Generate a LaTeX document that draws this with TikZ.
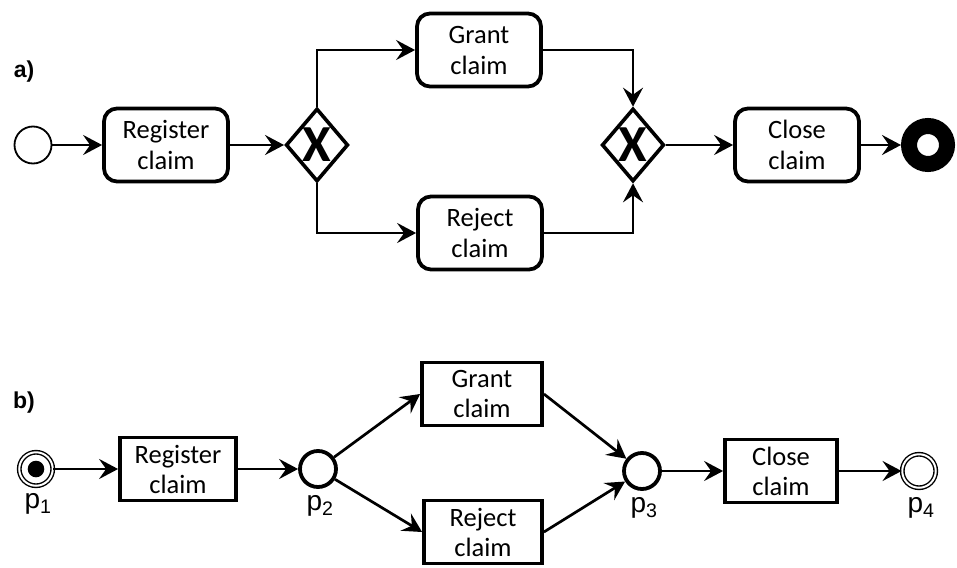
\documentclass[tikz,border=0pt]{standalone}
\usepackage{fontspec}
\setmainfont{Carlito}
\newfontfamily\arialfont{Liberation Sans}
\usetikzlibrary{shapes.geometric,arrows.meta}

\begin{document}
\begin{tikzpicture}[x=1pt,y=-1pt,
    flow/.style={line width=2.7pt, -{Stealth[length=19pt,width=20pt,inset=7pt]}},
    task/.style={draw, line width=3.8pt, rounded corners=13pt, minimum width=124pt,
      minimum height=73pt, inner sep=0pt, align=center, font=\fontsize{26.5}{31}\selectfont},
    gateway/.style={draw, diamond, line width=3.6pt, minimum width=60pt, minimum height=73pt,
      inner sep=0pt, font=\fontsize{52}{52}\selectfont\bfseries},
    trans/.style={draw, line width=3.8pt, minimum width=116pt, minimum height=63pt,
      inner sep=0pt, align=center, font=\fontsize{26.5}{30}\selectfont},
    place/.style={draw, circle, line width=3.8pt, minimum size=36pt, inner sep=0pt},
    dplace/.style={draw, circle, double, line width=1.4pt, double distance=2pt,
      minimum size=33.5pt, inner sep=0pt},
    plabel/.style={font=\arialfont\fontsize{28}{28}\selectfont},
    partlabel/.style={font=\arialfont\bfseries\fontsize{23}{23}\selectfont}]

      \useasboundingbox (0,0) rectangle (957,567);

      % a) BPMN model
      \node[partlabel] (la) at (24,72) {a)};
      \node[draw, circle, line width=1.8pt, minimum size=37pt, inner sep=0pt] (start) at (33,145) {};
      \node[task] (reg) at (166,145) {Register\\claim};
      \node[gateway] (gw1) at (317,145) {X};
      \node[task] (grant) at (479,50) {Grant\\claim};
      \node[task] (reject) at (480,233) {Reject\\claim};
      \node[gateway] (gw2) at (633,145) {X};
      \node[task] (close) at (797,145) {Close\\claim};
      \node[draw, circle, line width=16pt, minimum size=38pt, inner sep=0pt] (end) at (928,145) {};

      \draw[flow] (start) -- (reg);
      \draw[flow] (reg) -- (gw1);
      \draw[flow] (gw1.north) |- (grant.west);
      \draw[flow] (gw1.south) |- (reject.west);
      \draw[flow] (grant.east) -| (gw2.north);
      \draw[flow] (reject.east) -| (gw2.south);
      \draw[flow] (gw2) -- (close);
      \draw[flow] (close) -- (end);

      % b) Petri net
      \node[partlabel] (lb) at (24,403) {b)};
      \node[dplace] (p1) at (36,469) {};
      \fill (p1.center) circle (8.3pt);
      \node[trans, minimum width=116pt] (reg2) at (178,469) {Register\\claim};
      \node[place] (p2) at (318,469) {};
      \node[trans, minimum width=120pt] (grant2) at (482,394) {Grant\\claim};
      \node[trans, minimum width=118pt] (reject2) at (483,532) {Reject\\claim};
      \node[place] (p3) at (642,471) {};
      \node[trans, minimum width=112pt] (close2) at (781,471) {Close\\claim};
      \node[dplace] (p4) at (919,471) {};

      \node[plabel] (l1) at (38,504) {p\textsubscript{1}};
      \node[plabel] (l2) at (320,506) {p\textsubscript{2}};
      \node[plabel] (l3) at (644,508) {p\textsubscript{3}};
      \node[plabel] (l4) at (921,508) {p\textsubscript{4}};

      \draw[flow] (p1) -- (reg2);
      \draw[flow] (reg2) -- (p2);
      \draw[flow] (p2) -- (grant2.west);
      \draw[flow] (p2) -- (reject2.west);
      \draw[flow] (grant2.east) -- (p3);
      \draw[flow] (reject2.east) -- (p3);
      \draw[flow] (p3) -- (close2);
      \draw[flow] (close2) -- (p4);
    \end{tikzpicture}
\end{document}
